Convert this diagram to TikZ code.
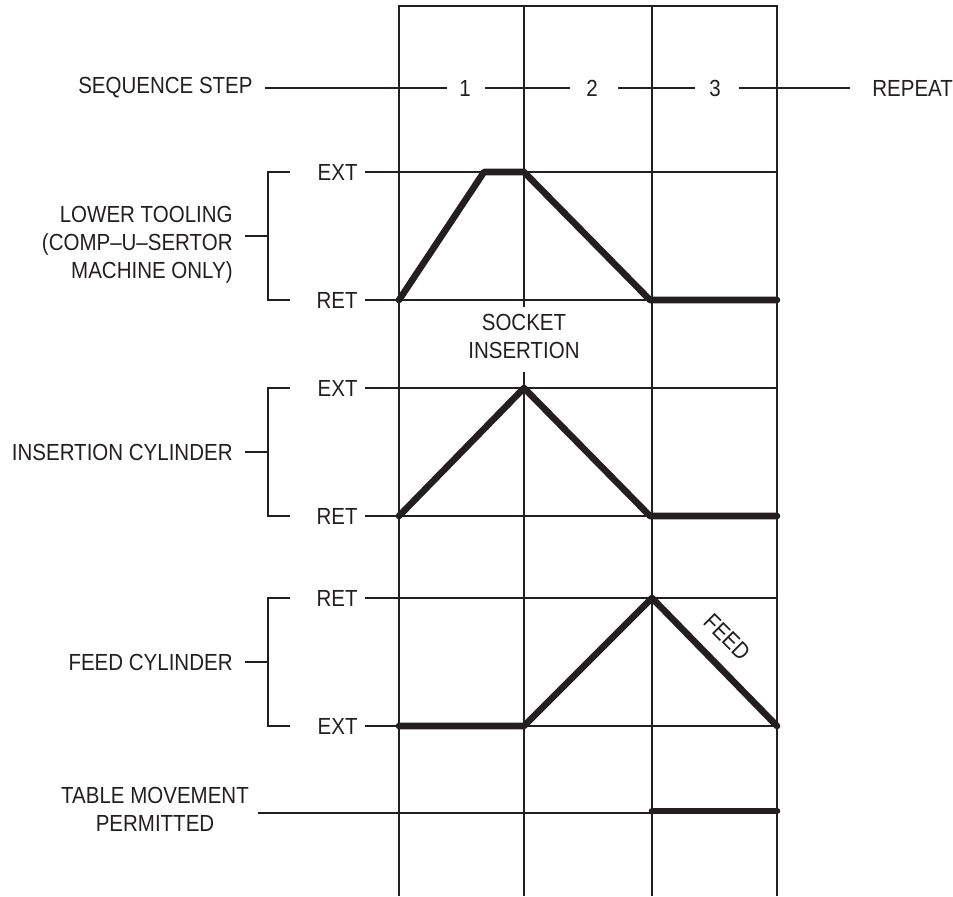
\documentclass[tikz,border=0pt]{standalone}
\usepackage{fontspec}
\setmainfont[FakeStretch=0.88]{Liberation Sans}
\definecolor{ink}{RGB}{35,31,32}
\begin{document}
\begin{tikzpicture}[x=0.5pt,y=-0.5pt,
  font=\fontsize{11.65}{14}\selectfont,
  grid/.style={draw=ink, line width=0.6pt},
  wave/.style={draw=ink, line width=3.3pt, line cap=round, line join=round},
  lbl/.style={text=ink, inner sep=0pt},
  group/.style={lbl, align=right, anchor=east},
  level/.style={lbl, anchor=east},
]
\useasboundingbox (0,0) rectangle (953,896);

% ---- step columns ----
\coordinate (tl) at (399,6);
\coordinate (tr) at (777,6);
\coordinate (bl) at (399,896);
\coordinate (br) at (777,896);
\coordinate (c2t) at (524,6);
\coordinate (c2a) at (524,307);
\coordinate (c2b) at (524,372);
\coordinate (c2z) at (524,896);
\coordinate (c3t) at (652,6);
\coordinate (c3z) at (652,896);
\draw[grid] (bl) -- (tl) -- (tr) -- (br);
\draw[grid] (c2t) -- (c2a);
\draw[grid] (c2b) -- (c2z);
\draw[grid] (c3t) -- (c3z);

% ---- sequence step header ----
\node[lbl, anchor=east] (seq) at (253,88) {SEQUENCE STEP};
\node[lbl] (s1) at (465,88) {1};
\node[lbl] (s2) at (592,88) {2};
\node[lbl] (s3) at (715,88) {3};
\node[lbl, anchor=west] (rep) at (872,88) {REPEAT};
\draw[grid, shorten <=6pt, shorten >=6pt] (seq.east) -- (s1.west);
\draw[grid, shorten <=7pt, shorten >=8pt] (s1.east) -- (s2.west);
\draw[grid, shorten <=10pt, shorten >=7pt] (s2.east) -- (s3.west);
\draw[grid, shorten <=9pt, shorten >=11pt] (s3.east) -- (rep.west);

% ---- lower tooling ----
\node[level] (ltE) at (358,172) {EXT};
\node[level] (ltR) at (358,300) {RET};
\coordinate (ltEe) at (777,172);
\coordinate (ltRe) at (777,300);
\draw[grid, shorten <=3.5pt] (ltE.east) -- (ltEe);
\draw[grid, shorten <=3.5pt] (ltR.east) -- (ltRe);
\node[group] (ltG) at (233,245) {LOWER TOOLING\\(COMP\textendash U\textendash SERTOR\\MACHINE ONLY)};
\draw[grid] (290,172) -- (268,172) -- (268,300) -- (290,300);
\draw[grid, shorten <=6pt] (ltG.east |- 0,236) -- (268,236);
\draw[wave] (399,300) -- (484,172) -- (524,172) -- (650,300) -- (777,300);

\node[lbl, align=center] (sock) at (524,336) {SOCKET\\INSERTION};

% ---- insertion cylinder ----
\node[level] (icE) at (358,388) {EXT};
\node[level] (icR) at (358,516) {RET};
\coordinate (icEe) at (777,388);
\coordinate (icRe) at (777,516);
\draw[grid, shorten <=3.5pt] (icE.east) -- (icEe);
\draw[grid, shorten <=3.5pt] (icR.east) -- (icRe);
\node[group] (icG) at (233,452) {INSERTION CYLINDER};
\draw[grid] (290,388) -- (268,388) -- (268,516) -- (290,516);
\draw[grid, shorten <=6pt] (icG.east) -- (268,452);
\draw[wave] (399,516) -- (524,388) -- (650,516) -- (777,516);

% ---- feed cylinder ----
\node[level] (fcR) at (358,598) {RET};
\node[level] (fcE) at (358,726) {EXT};
\coordinate (fcRe) at (777,598);
\coordinate (fcEe) at (777,726);
\draw[grid, shorten <=3.5pt] (fcR.east) -- (fcRe);
\draw[grid, shorten <=3.5pt] (fcE.east) -- (fcEe);
\node[group] (fcG) at (233,662) {FEED CYLINDER};
\draw[grid] (290,598) -- (268,598) -- (268,726) -- (290,726);
\draw[grid, shorten <=6pt] (fcG.east) -- (268,662);
\draw[wave] (399,726) -- (524,726) -- (652,598) -- (777,726);
\node[lbl, rotate=-45] (feed) at (727,637) {FEED};

% ---- table movement ----
\node[lbl, align=center] (tab) at (155,809) {TABLE MOVEMENT\\PERMITTED};
\coordinate (tabE) at (777,813);
\draw[grid] (258,813) -- (tabE);
\draw[wave] (652,811) -- (777,811);
\end{tikzpicture}
\end{document}
